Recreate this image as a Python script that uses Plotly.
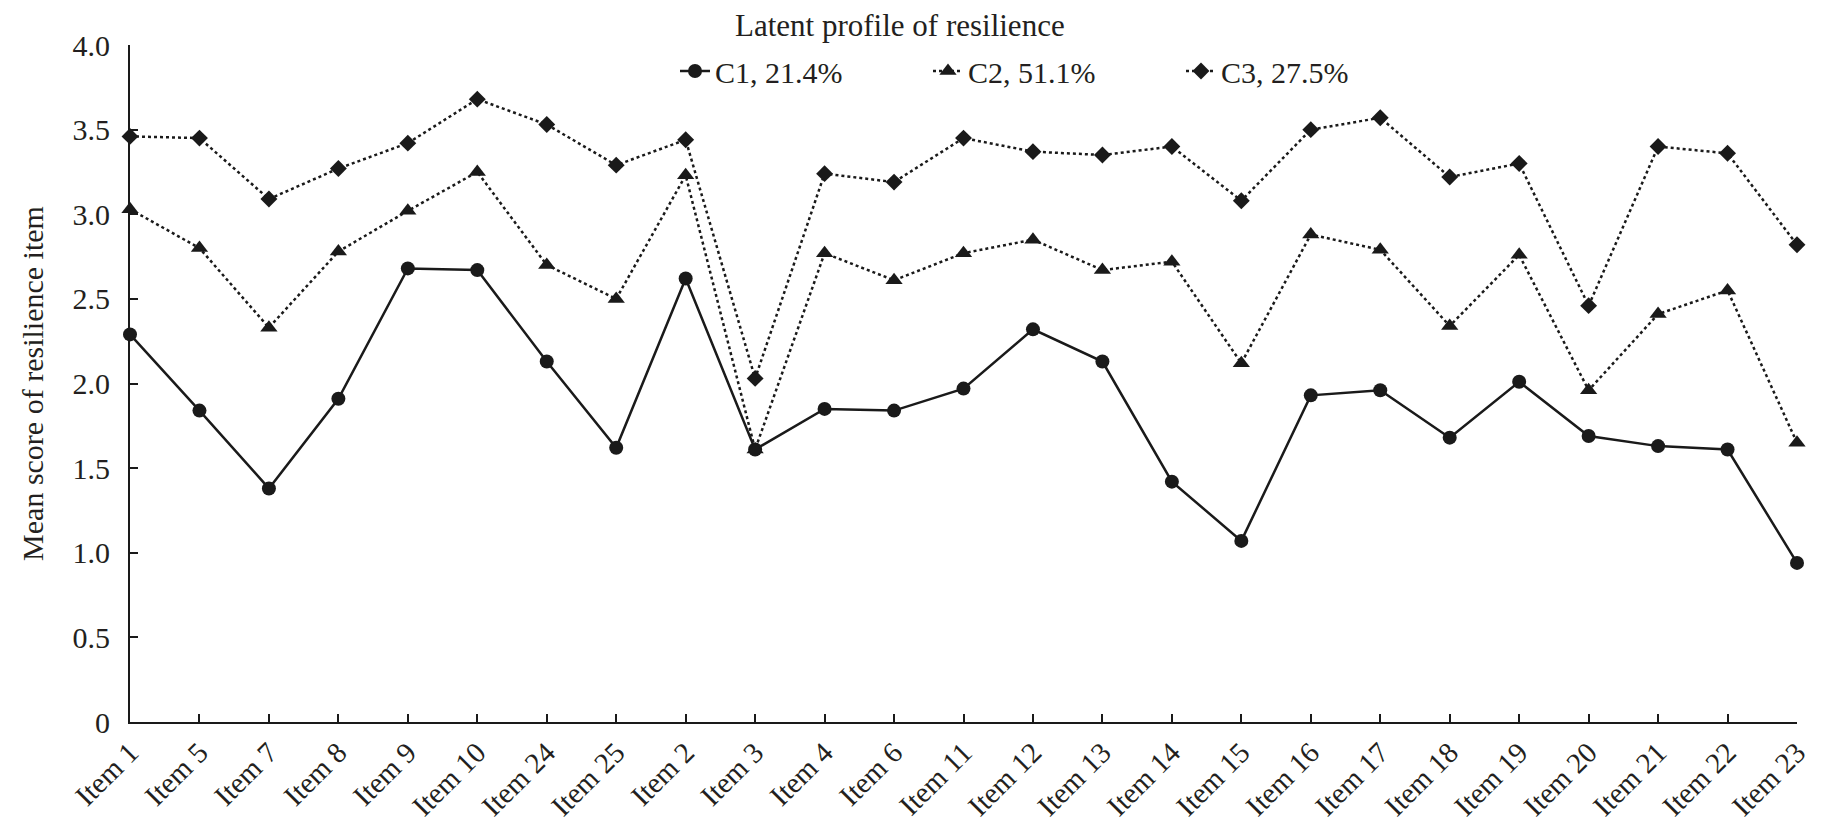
import plotly.graph_objects as go

# item order as on the x axis
items = ['Item 1', 'Item 5', 'Item 7', 'Item 8', 'Item 9', 'Item 10', 'Item 24', 'Item 25',
         'Item 2', 'Item 3', 'Item 4', 'Item 6', 'Item 11', 'Item 12', 'Item 13', 'Item 14',
         'Item 15', 'Item 16', 'Item 17', 'Item 18', 'Item 19', 'Item 20', 'Item 21', 'Item 22',
         'Item 23']

c1 = [2.29, 1.84, 1.38, 1.91, 2.68, 2.67, 2.13, 1.62, 2.62, 1.61, 1.85, 1.84, 1.97,
      2.32, 2.13, 1.42, 1.07, 1.93, 1.96, 1.68, 2.01, 1.69, 1.63, 1.61, 0.94]
c2 = [3.03, 2.80, 2.33, 2.78, 3.02, 3.25, 2.70, 2.50, 3.23, 1.61, 2.77, 2.61, 2.77,
      2.85, 2.67, 2.72, 2.12, 2.88, 2.79, 2.34, 2.76, 1.96, 2.41, 2.55, 1.65]
c3 = [3.46, 3.45, 3.09, 3.27, 3.42, 3.68, 3.53, 3.29, 3.44, 2.03, 3.24, 3.19, 3.45,
      3.37, 3.35, 3.40, 3.08, 3.50, 3.57, 3.22, 3.30, 2.46, 3.40, 3.36, 2.82]

names = ['C1, 21.4%', 'C2, 51.1%', 'C3, 27.5%']
yticks = [0, 0.5, 1.0, 1.5, 2.0, 2.5, 3.0, 3.5, 4.0]
ytick_text = ['0', '0.5', '1.0', '1.5', '2.0', '2.5', '3.0', '3.5', '4.0']

ink = '#1a1a1a'
serif = 'Liberation Serif, Times New Roman, serif'

fig = go.Figure()
fig.add_trace(go.Scatter(x=items, y=c1, name=names[0], mode='lines+markers',
                         line=dict(color=ink, width=2.5),
                         marker=dict(symbol='circle', size=14, color=ink),
                         cliponaxis=False))
fig.add_trace(go.Scatter(x=items, y=c2, name=names[1], mode='lines+markers',
                         line=dict(color=ink, width=2.5, dash='dot'),
                         marker=dict(symbol='triangle-up', size=15, color=ink),
                         cliponaxis=False))
fig.add_trace(go.Scatter(x=items, y=c3, name=names[2], mode='lines+markers',
                         line=dict(color=ink, width=2.5, dash='dot'),
                         marker=dict(symbol='diamond', size=13, color=ink),
                         cliponaxis=False))

# page has an 8px body margin, so margins are pulled in by 8px
fig.update_layout(
    width=1831, height=827,
    paper_bgcolor='white', plot_bgcolor='white',
    margin=dict(l=122, r=42, t=37, b=113, autoexpand=False),
    font=dict(family=serif, size=29, color='#231f20'),
    showlegend=True,
    legend=dict(orientation='h', xref='container', x=667 / 1831, xanchor='left',
                yref='container', y=1 - 63 / 827, yanchor='middle',
                font=dict(size=30), entrywidth=208, entrywidthmode='pixels',
                bgcolor='rgba(0,0,0,0)'),
    annotations=[dict(text='Latent profile of resilience', xref='paper', yref='paper',
                      x=(900 - 130) / (1831 - 164), y=1.029, yanchor='middle',
                      xanchor='center', showarrow=False, font=dict(size=31))],
)

fig.update_xaxes(
    type='category', range=[0, len(items) - 1], automargin=False,
    showline=True, linecolor=ink, linewidth=2,
    ticks='inside', ticklen=8, tickwidth=2, tickcolor=ink,
    tickangle=-45, showgrid=False, zeroline=False,
    tickfont=dict(size=29),
)
fig.update_yaxes(
    range=[0, 4.0], tickvals=yticks, ticktext=ytick_text, automargin=False,
    showline=True, linecolor=ink, linewidth=2,
    ticks='inside', ticklen=8, tickwidth=2, tickcolor=ink,
    showgrid=False, zeroline=False, ticklabelstandoff=12,
    tickfont=dict(size=30),
    title=dict(text='Mean score of resilience item', standoff=20, font=dict(size=30)),
)

fig.write_html('out.html')
